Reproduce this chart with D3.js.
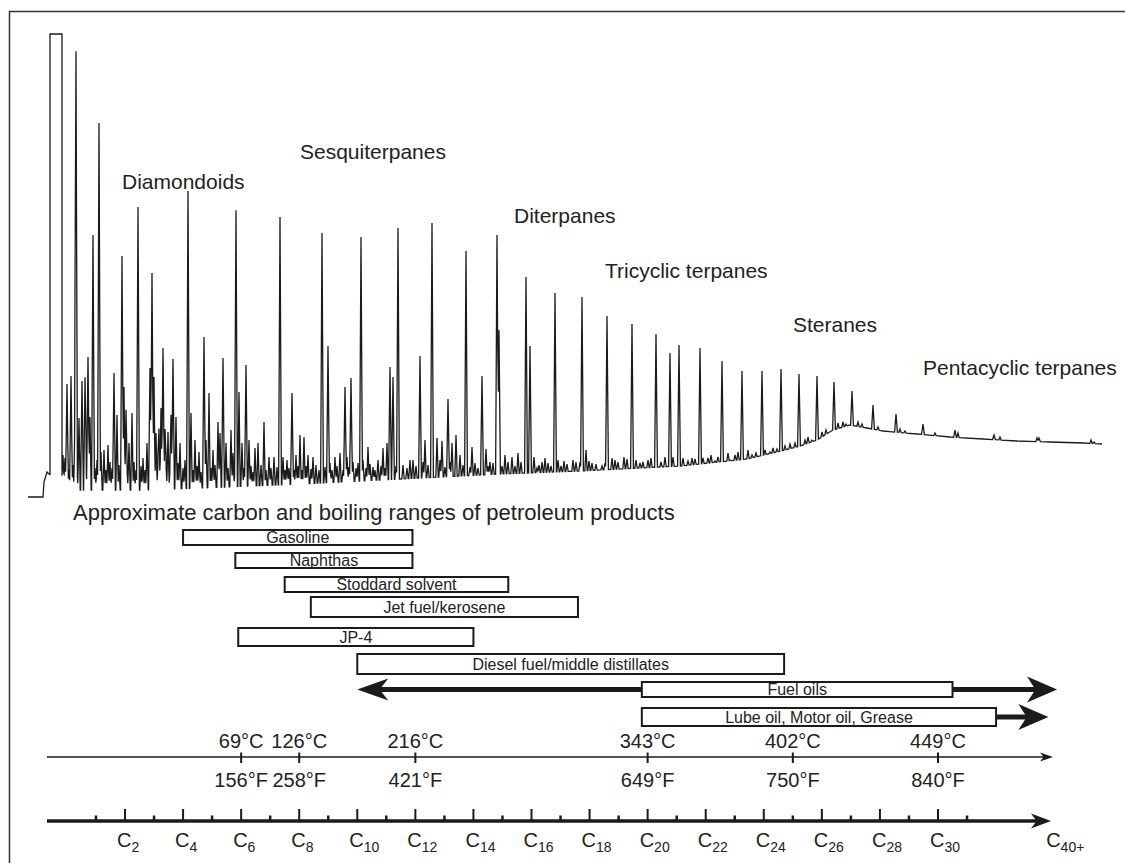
<!DOCTYPE html>
<html>
<head>
<meta charset="utf-8">
<script src="https://cdn.jsdelivr.net/npm/d3@7"></script>
<style>
  html, body { margin: 0; padding: 0; background: #fff; }
  svg { display: block; font-family: "Liberation Sans", Arial, Helvetica, sans-serif; }
</style>
</head>
<body>
<svg id="chart" width="1125" height="863"></svg>
<script>
// ---------------- Chromatogram (total ion current) ----------------
// retention time in minutes, relative abundance in %
const baselineTime  = [0, 0.75, 0.8, 0.95, 1.05, 1.7, 2.1, 5.6, 8.6, 13.6, 18.6, 23.6, 27.6, 32.6, 35.95, 37.45, 38.6, 39.45, 40.25, 41.1, 41.95, 42.75, 44.45, 46.1, 47.75, 49.45, 51.1, 52.75, 53.7];
const baselineLevel = [0, 0, 3.0, 5.0, 4.6, 3.4, 1.4, 1.4, 1.8, 2.6, 3.6, 4.6, 5.2, 6.2, 7.6, 9.0, 10.2, 11.4, 13.4, 14.4, 13.8, 13.2, 12.6, 12.0, 11.6, 11.2, 11.0, 10.8, 10.6];

// solvent peak, off scale (flat-topped)
const solventStart = 1.1, solventEnd = 1.7, solventTop = 92.6;

const majorPeakTime   = [1.95, 2.15, 2.4, 2.7, 2.85, 3.0, 3.25, 3.55, 4.3, 4.7, 5.5, 6.1, 6.2, 6.75, 7.25, 8.0, 8.8, 9.75, 10.4, 10.9, 12.6, 13.2, 14.7, 15.0, 15.85, 16.15, 16.65, 18.1, 18.25, 18.5, 19.6, 20.2, 21.0, 21.9, 22.7, 23.45, 23.55, 24.9, 25.1, 26.35, 27.7, 28.95, 30.2, 31.4, 32.1, 32.55, 33.6, 34.7, 35.7, 36.7, 37.65, 38.55, 39.45, 40.3, 41.2, 42.25, 43.4, 44.75, 46.35, 48.3, 50.55, 53.3];
const majorPeakHeight = [22.6, 24.2, 85.8, 23.2, 23.2, 28.0, 52.4, 74.8, 24.8, 48.2, 58.0, 25.8, 44.8, 29.8, 27.6, 61.2, 32.0, 27.8, 56.8, 26.4, 56.0, 20.8, 52.8, 30.2, 22.0, 23.8, 52.0, 26.0, 24.0, 53.8, 28.2, 54.8, 19.6, 49.2, 24.2, 52.4, 33.4, 44.0, 30.2, 40.8, 40.0, 36.2, 34.6, 32.6, 28.8, 30.4, 29.8, 27.2, 25.2, 25.2, 25.6, 24.6, 24.2, 23.0, 21.2, 18.4, 16.6, 14.6, 13.4, 12.4, 11.8, 11.0];

const minorPeakTime = [
  1.75, 1.85, 2.05, 2.25, 2.35, 2.45, 2.55, 2.9, 3.1, 3.35, 3.45, 3.65, 3.8, 3.9, 4.0, 4.1, 4.2, 4.45, 4.55, 4.8,
  4.9, 4.95, 5.05, 5.2, 5.3, 5.4, 5.65, 5.75, 5.85, 5.95, 6.3, 6.4, 6.5, 6.55, 6.65, 6.85, 6.9, 7.0, 7.1, 7.15,
  7.4, 7.5, 7.6, 7.75, 7.85, 8.15, 8.25, 8.35, 8.45, 8.55, 8.65, 8.9, 9.05, 9.15, 9.25, 9.35, 9.5, 9.6, 9.9, 10.0,
  10.15, 10.25, 10.35, 10.55, 10.7, 10.8, 11.05, 11.15, 11.25, 11.35, 11.5, 11.65, 11.8, 11.9, 12.05, 12.15, 12.3, 12.45, 12.75, 12.85,
  12.95, 13.05, 13.3, 13.4, 13.5, 13.6, 13.7, 13.8, 13.9, 14.0, 14.15, 14.25, 14.4, 14.55, 14.85, 15.1, 15.2, 15.35, 15.45, 15.6,
  15.75, 15.95, 16.05, 16.25, 16.4, 16.5, 16.75, 16.9, 17.0, 17.1, 17.25, 17.35, 17.5, 17.65, 17.75, 17.85, 17.95, 18.4, 18.75, 18.95,
  19.1, 19.25, 19.4, 19.75, 19.85, 20.0, 20.45, 20.6, 20.7, 20.85, 21.1, 21.2, 21.4, 21.6, 21.75, 22.1, 22.2, 22.35, 22.5, 22.9,
  23.0, 23.1, 23.25, 23.7, 23.85, 24.0, 24.2, 24.35, 24.5, 24.65, 25.3, 25.45, 25.55, 25.7, 25.85, 26.0, 26.15, 26.5, 26.65, 26.8,
  26.95, 27.25, 27.4, 27.6, 27.9, 28.05, 28.2, 28.4, 28.7, 28.85, 29.2, 29.35, 29.5, 29.8, 29.95, 30.4, 30.6, 30.75, 31.0, 31.15,
  31.65, 31.85, 32.25, 32.75, 33.0, 33.2, 33.35, 33.75, 34.0, 34.15, 34.35, 34.5, 35.0, 35.1, 35.35, 35.5, 36.0, 36.2, 36.4, 36.85,
  37.1, 37.25, 37.45, 37.85, 38.1, 38.35, 38.85, 39.0, 39.2, 39.7, 39.9, 40.5, 40.75, 40.9, 41.5, 41.7, 42.5, 43.6, 43.85, 45.35,
  46.5, 48.6, 50.45, 53.15
];
const minorPeakHeight = [
  8.4, 7.8, 5.4, 6.4, 17.4, 5.4, 15.8, 5.8, 16.0, 5.8, 7.4, 9.0, 9.4, 5.4, 10.4, 7.0, 5.8, 16.4, 6.4, 22.0,
  16.8, 5.4, 10.8, 16.8, 7.0, 5.4, 6.2, 7.8, 5.4, 10.8, 24.0, 12.8, 7.0, 12.8, 17.8, 12.8, 6.4, 13.0, 5.4, 15.8,
  16.0, 6.8, 10.8, 5.8, 7.4, 16.8, 5.4, 11.4, 6.2, 9.0, 5.0, 11.4, 20.8, 5.8, 9.4, 6.4, 15.0, 12.8, 10.8, 5.8,
  13.4, 8.8, 5.4, 21.0, 10.8, 5.8, 11.4, 6.2, 5.0, 9.8, 10.8, 6.4, 15.0, 5.4, 8.0, 5.8, 8.0, 6.0, 8.0, 5.4,
  7.4, 5.8, 5.4, 8.4, 6.2, 12.4, 5.4, 12.0, 6.2, 8.4, 5.6, 8.0, 6.4, 5.4, 6.0, 6.8, 5.4, 8.0, 6.2, 8.8,
  5.4, 8.0, 6.0, 7.0, 5.8, 6.8, 7.4, 5.8, 10.0, 6.6, 6.0, 5.4, 7.4, 6.2, 9.8, 5.8, 10.8, 6.2, 6.4, 5.8,
  7.4, 7.4, 6.2, 7.0, 11.4, 6.4, 11.8, 7.4, 11.2, 6.0, 7.0, 10.8, 12.4, 8.4, 6.4, 6.0, 10.0, 6.8, 5.8, 9.6,
  6.2, 7.0, 6.8, 6.2, 8.4, 7.0, 8.0, 6.2, 8.8, 7.0, 8.0, 5.8, 6.4, 7.0, 7.8, 6.8, 6.2, 7.4, 6.2, 7.2,
  6.6, 7.4, 7.0, 7.0, 9.4, 7.2, 6.8, 6.6, 6.2, 6.8, 7.8, 7.4, 7.0, 8.0, 7.6, 7.4, 6.8, 7.0, 7.4, 7.8,
  7.0, 8.0, 8.0, 7.8, 7.2, 7.8, 7.6, 7.8, 7.8, 8.4, 7.2, 8.0, 8.8, 7.4, 8.4, 9.0, 9.4, 8.4, 8.8, 9.4,
  9.0, 9.8, 9.6, 10.2, 10.6, 10.8, 11.4, 12.0, 11.4, 13.0, 13.4, 14.8, 15.0, 14.6, 15.0, 14.6, 14.0, 13.6, 13.2, 12.8,
  12.8, 12.0, 11.8, 11.4
];

const compoundClasses = ["Diamondoids", "Sesquiterpanes", "Diterpanes", "Tricyclic terpanes", "Steranes", "Pentacyclic terpanes"];

// ---------------- Petroleum product ranges (carbon number) ----------------
const products     = ["Gasoline", "Naphthas", "Stoddard solvent", "Jet fuel/kerosene", "JP-4", "Diesel fuel/middle distillates", "Fuel oils", "Lube oil, Motor oil, Grease"];
const productFrom  = [4.0, 5.8, 7.5, 8.4, 5.9, 10.0, 19.8, 19.8];
const productTo    = [11.9, 11.9, 15.2, 17.6, 14.0, 24.7, 30.5, 32.0];
const productExtendLow  = [null, null, null, null, null, null, 10.0, null];
const productExtendHigh = [null, null, null, null, null, null, 34.1, 33.8];

// ---------------- Boiling points of n-alkanes ----------------
const boilCarbon = [6, 8, 12, 20, 25, 30];
const boilC = ["69°C", "126°C", "216°C", "343°C", "402°C", "449°C"];
const boilF = ["156°F", "258°F", "421°F", "649°F", "750°F", "840°F"];

// ---------------- Carbon-number scale ----------------
const carbonEven   = [2, 4, 6, 8, 10, 12, 14, 16, 18, 20, 22, 24, 26, 28, 30];
const carbonOdd    = [1, 3, 5, 7, 9, 11, 13, 15, 17, 19, 21, 23, 25, 27, 29, 31];
const carbonLabels = ["2", "4", "6", "8", "10", "12", "14", "16", "18", "20", "22", "24", "26", "28", "30", "40+"];
const carbonLabelAt = [2, 4, 6, 8, 10, 12, 14, 16, 18, 20, 22, 24, 26, 28, 30, 34];

// =========================================================================
const ink = "#1b1b1b";
const svg = d3.select("#chart");

// frame
svg.append("path")
  .attr("d", "M9.5,863 V11.5 H1125")
  .attr("fill", "none").attr("stroke", "#333").attr("stroke-width", 1.5);

// ---- chromatogram ----
const xT = d3.scaleLinear().domain([0, 54]).range([28, 1108]);
const yA = d3.scaleLinear().domain([0, 100]).range([497, -3]);
const base = d3.scaleLinear().domain(baselineTime).range(baselineLevel).clamp(true);

const peaks = majorPeakTime.map((t, i) => ({ t, h: majorPeakHeight[i], w: 0.07 }))
  .concat(minorPeakTime.map((t, i) => ({ t, h: minorPeakHeight[i], w: 0.06 })));

// detector response: baseline plus narrow triangular peaks
function signal(t) {
  let v = base(t);
  for (const p of peaks) {
    const d = Math.abs(t - p.t);
    if (d < p.w) v += (p.h - base(p.t)) * (1 - d / p.w);
  }
  return v;
}

let keys = baselineTime.slice();
peaks.forEach(p => keys.push(p.t - p.w, p.t, p.t + p.w));
keys = Array.from(new Set(keys.map(k => +k.toFixed(4)))).sort((a, b) => a - b);

const trace = [];
keys.filter(t => t < solventStart).forEach(t => trace.push([t, signal(t)]));
trace.push([solventStart, signal(solventStart)], [solventStart, solventTop],
           [solventEnd, solventTop], [solventEnd, signal(solventEnd)]);
keys.filter(t => t > solventEnd).forEach(t => trace.push([t, signal(t)]));

svg.append("path")
  .datum(trace)
  .attr("fill", "none")
  .attr("stroke", ink)
  .attr("stroke-width", 1.3)
  .attr("stroke-linejoin", "miter")
  .attr("d", d3.line().x(d => xT(d[0])).y(d => yA(d[1])));

// compound-class annotations, anchored in (time, abundance)
const classLabelAt = [[4.7, 61.6], [13.6, 67.6], [24.3, 54.8], [28.85, 43.8], [38.25, 33.0], [44.75, 24.4]];
svg.append("g").selectAll("text")
  .data(compoundClasses)
  .join("text")
  .attr("x", (d, i) => xT(classLabelAt[i][0]))
  .attr("y", (d, i) => yA(classLabelAt[i][1]))
  .attr("font-size", 21)
  .attr("fill", "#222")
  .text(d => d);

// ---- product ranges ----
const xC = d3.scaleLinear().domain([2, 30]).range([125, 938]);

svg.append("text")
  .attr("x", 73).attr("y", 520)
  .attr("font-size", 22).attr("fill", "#222")
  .text("Approximate carbon and boiling ranges of petroleum products");

const rowTop = [530, 553, 577, 597, 628, 654, 682, 708];
const rowH   = [15, 15, 15, 20, 18, 20, 15, 18];

function arrowHead(tipX, y, dir, len, half) {
  const bx = tipX - dir * len, nx = tipX - dir * len * 0.72;
  return `M${tipX},${y} L${bx},${y - half} L${nx},${y} L${bx},${y + half} Z`;
}

const gp = svg.append("g");
products.forEach((name, i) => {
  const x0 = xC(productFrom[i]), x1 = xC(productTo[i]);
  const cy = rowTop[i] + rowH[i] / 2;
  if (productExtendLow[i] != null) {
    const tip = xC(productExtendLow[i]);
    gp.append("line").attr("x1", tip + 20).attr("x2", x0).attr("y1", cy).attr("y2", cy)
      .attr("stroke", ink).attr("stroke-width", 5);
    gp.append("path").attr("d", arrowHead(tip, cy, -1, 31, 11)).attr("fill", ink);
  }
  if (productExtendHigh[i] != null) {
    const tip = xC(productExtendHigh[i]);
    gp.append("line").attr("x1", x1).attr("x2", tip - 20).attr("y1", cy).attr("y2", cy)
      .attr("stroke", ink).attr("stroke-width", 5);
    gp.append("path").attr("d", arrowHead(tip, cy, 1, 30, 13)).attr("fill", ink);
  }
  gp.append("rect")
    .attr("x", x0).attr("y", rowTop[i])
    .attr("width", x1 - x0).attr("height", rowH[i])
    .attr("fill", "#fff").attr("stroke", ink).attr("stroke-width", 2);
  gp.append("text")
    .attr("x", (x0 + x1) / 2).attr("y", cy + 5.5)
    .attr("text-anchor", "middle")
    .attr("font-size", 16).attr("fill", "#222")
    .text(name);
});

// ---- boiling-point axis ----
const tempY = 757;
const ga = svg.append("g");
ga.append("line").attr("x1", 47).attr("x2", 1045).attr("y1", tempY).attr("y2", tempY)
  .attr("stroke", ink).attr("stroke-width", 1.6);
ga.append("path").attr("d", arrowHead(1053, tempY, 1, 13, 4.5)).attr("fill", ink);
ga.selectAll(".bt").data(boilCarbon).join("line")
  .attr("x1", d => xC(d)).attr("x2", d => xC(d))
  .attr("y1", tempY - 4.5).attr("y2", tempY + 6)
  .attr("stroke", ink).attr("stroke-width", 2);
ga.selectAll(".bc").data(boilCarbon).join("text")
  .attr("x", d => xC(d)).attr("y", 748)
  .attr("text-anchor", "middle").attr("font-size", 20).attr("fill", "#222")
  .text((d, i) => boilC[i]);
ga.selectAll(".bf").data(boilCarbon).join("text")
  .attr("x", d => xC(d)).attr("y", 787)
  .attr("text-anchor", "middle").attr("font-size", 20).attr("fill", "#222")
  .text((d, i) => boilF[i]);

// ---- carbon-number axis ----
const cY = 821;
const gc = svg.append("g");
gc.append("line").attr("x1", 47).attr("x2", 1038).attr("y1", cY).attr("y2", cY)
  .attr("stroke", ink).attr("stroke-width", 3.5);
gc.append("path").attr("d", arrowHead(1051, cY, 1, 20, 7.5)).attr("fill", ink);
gc.selectAll(".ce").data(carbonEven).join("line")
  .attr("x1", d => xC(d)).attr("x2", d => xC(d))
  .attr("y1", cY - 12).attr("y2", cY)
  .attr("stroke", ink).attr("stroke-width", 2);
gc.selectAll(".co").data(carbonOdd).join("line")
  .attr("x1", d => xC(d)).attr("x2", d => xC(d))
  .attr("y1", cY - 5.5).attr("y2", cY)
  .attr("stroke", ink).attr("stroke-width", 2.5);
const cl = gc.selectAll(".cl").data(carbonLabels).join("text")
  .attr("x", (d, i) => xC(carbonLabelAt[i]) - 8)
  .attr("y", 847)
  .attr("font-size", 20).attr("fill", "#222");
cl.append("tspan").text("C");
cl.append("tspan").attr("font-size", 14).attr("dy", 5).text(d => d);
</script>
</body>
</html>
